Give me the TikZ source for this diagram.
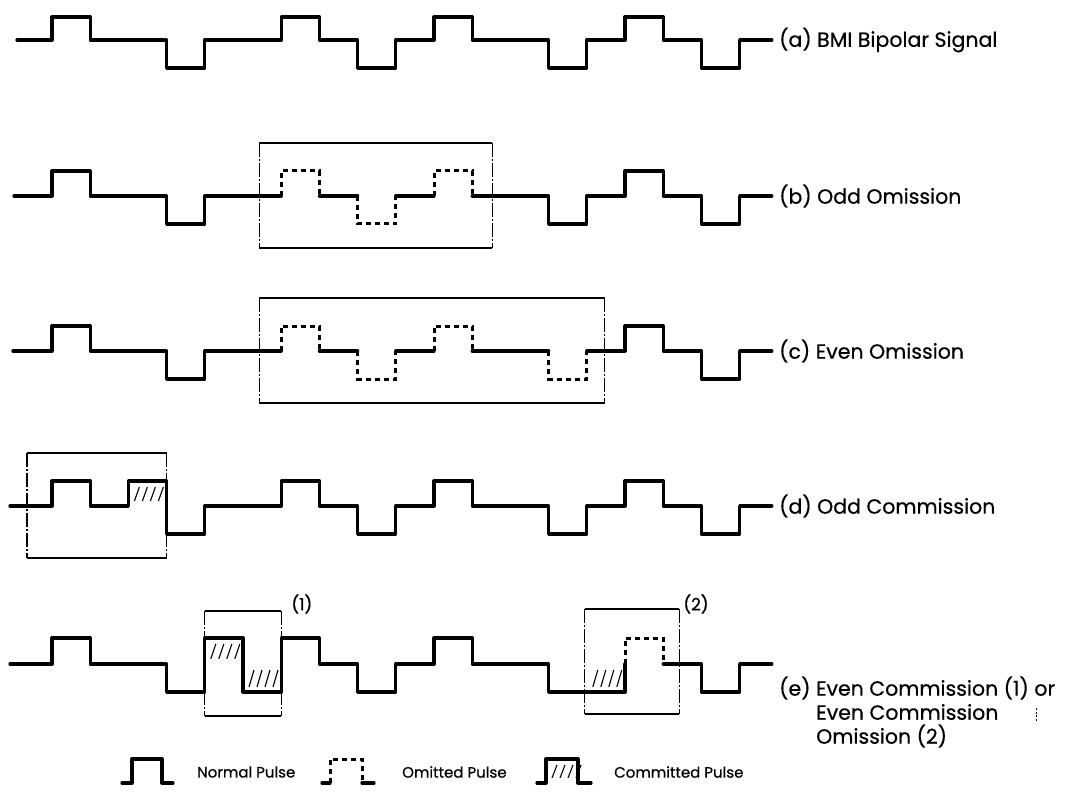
\documentclass[tikz,border=0pt]{standalone}
\usepackage{fontspec}
\setmainfont{Poppins}[FakeBold=0.5]
\pgfmathdeclarefunction{sx}{1}{\pgfmathparse{52+38.2*#1}}
\tikzset{
  sig/.style={line width=3.3pt, line join=round, line cap=round},
  om/.style={line width=3pt, dash pattern=on 5pt off 4pt, line cap=butt},
  frameh/.style={line width=1.3pt},
  framev/.style={line width=1.1pt, dash pattern=on 14pt off 2pt on 2pt off 2pt},
  hatchl/.style={line width=1.1pt},
  lbl/.style={anchor=west, font=\fontsize{20.5}{24}\selectfont, inner sep=0pt},
  leg/.style={anchor=west, font=\fontsize{15}{18}\selectfont, inner sep=0pt},
}
\newcommand\pup[1]{-- ({sx(#1)},\yb) -- ({sx(#1)},\yh) -- ({sx(#1+1)},\yh) -- ({sx(#1+1)},\yb)}
\newcommand\pdn[1]{-- ({sx(#1)},\yb) -- ({sx(#1)},\yl) -- ({sx(#1+1)},\yl) -- ({sx(#1+1)},\yb)}
\newcommand\errbox[4]{%
  \draw[frameh] ({#1},{#2}) -- ({#3},{#2});
  \draw[frameh] ({#1},{#4}) -- ({#3},{#4});
  \draw[framev] ({#1},{#2}) -- ({#1},{#4});
  \draw[framev] ({#3},{#2}) -- ({#3},{#4});}
\newcommand\hatch[4]{%
  \pgfmathsetmacro\hxa{#1}\pgfmathsetmacro\hya{#2}\pgfmathsetmacro\hyb{#4}%
  \foreach \i in {0,1,2,3}{\draw[hatchl] ({\hxa+6+\i*8},{\hyb-5}) -- ++(5,{-(\hyb-\hya)+11});}}
\begin{document}
\begin{tikzpicture}[x=1pt,y=-1pt]
\useasboundingbox (0,0) rectangle (1084,794);
\fill[white] (0,0) rectangle (1084,794);

% (a)
\def\yb{40}\def\yh{17}\def\yl{68}
\draw[sig] (17,\yb) \pup{0}\pdn{3}\pup{6}\pdn{8}\pup{10}\pdn{13}\pup{15}\pdn{17} -- ({sx(19)-6},\yb);
\node[lbl] (la) at (779,\yb) {(a) BMI Bipolar Signal};

% (b)
\def\yb{196}\def\yh{171}\def\yl{224}
\draw[sig] (14,\yb) \pup{0}\pdn{3} -- ({sx(6)},\yb);
\draw[om] ({sx(6)},\yb) -- ({sx(6)},\yh) -- ({sx(7)},\yh) -- ({sx(7)},\yb);
\draw[sig] ({sx(7)},\yb) -- ({sx(8)},\yb);
\draw[om] ({sx(8)},\yb) -- ({sx(8)},\yl) -- ({sx(9)},\yl) -- ({sx(9)},\yb);
\draw[sig] ({sx(9)},\yb) -- ({sx(10)},\yb);
\draw[om] ({sx(10)},\yb) -- ({sx(10)},\yh) -- ({sx(11)},\yh) -- ({sx(11)},\yb);
\draw[sig] ({sx(11)},\yb) \pdn{13}\pup{15}\pdn{17} -- ({sx(19)-6},\yb);
\errbox{sx(6)-22}{143}{sx(11)+20}{248}
\node[lbl] (lb) at (779,\yb) {(b) Odd Omission};

% (c)
\def\yb{351}\def\yh{326}\def\yl{379}
\draw[sig] (13,\yb) \pup{0}\pdn{3} -- ({sx(6)},\yb);
\draw[om] ({sx(6)},\yb) -- ({sx(6)},\yh) -- ({sx(7)},\yh) -- ({sx(7)},\yb);
\draw[sig] ({sx(7)},\yb) -- ({sx(8)},\yb);
\draw[om] ({sx(8)},\yb) -- ({sx(8)},\yl) -- ({sx(9)},\yl) -- ({sx(9)},\yb);
\draw[sig] ({sx(9)},\yb) -- ({sx(10)},\yb);
\draw[om] ({sx(10)},\yb) -- ({sx(10)},\yh) -- ({sx(11)},\yh) -- ({sx(11)},\yb);
\draw[sig] ({sx(11)},\yb) -- ({sx(13)},\yb);
\draw[om] ({sx(13)},\yb) -- ({sx(13)},\yl) -- ({sx(14)},\yl) -- ({sx(14)},\yb);
\draw[sig] ({sx(14)},\yb) \pup{15}\pdn{17} -- ({sx(19)-6},\yb);
\errbox{sx(6)-22}{298}{sx(14)+18}{403}
\node[lbl] (lc) at (779,\yb) {(c) Even Omission};

% (d)
\def\yb{506}\def\yh{481}\def\yl{534}
\draw[sig] (10,\yb) \pup{0} -- ({sx(2)},\yb) -- ({sx(2)},\yh) -- ({sx(3)},\yh) -- ({sx(3)},\yl) -- ({sx(4)},\yl) -- ({sx(4)},\yb) \pup{6}\pdn{8}\pup{10}\pdn{13}\pup{15}\pdn{17} -- ({sx(19)-6},\yb);
\hatch{sx(2)}{\yh}{sx(3)}{\yb}
\errbox{27}{453}{sx(3)}{558}
\node[lbl] (ld) at (779,\yb) {(d) Odd Commission};

% (e)
\def\yb{664}\def\yh{638}\def\yl{692}
\draw[sig] (10,\yb) \pup{0} -- ({sx(3)},\yb) -- ({sx(3)},\yl) -- ({sx(4)},\yl) -- ({sx(4)},\yh) -- ({sx(5)},\yh) -- ({sx(5)},\yl) -- ({sx(6)},\yl) -- ({sx(6)},\yh) -- ({sx(7)},\yh) -- ({sx(7)},\yb) \pdn{8}\pup{10} -- ({sx(13)},\yb) -- ({sx(13)},\yl) -- ({sx(15)},\yl) -- ({sx(15)},\yb);
\draw[om] ({sx(15)},\yb) -- ({sx(15)},\yh) -- ({sx(16)},\yh) -- ({sx(16)},\yb);
\draw[sig] ({sx(16)},\yb) \pdn{17} -- ({sx(19)-6},\yb);
\hatch{sx(4)}{\yh}{sx(5)}{\yb}
\hatch{sx(5)}{\yb}{sx(6)}{\yl}
\hatch{sx(14)}{\yb}{sx(15)}{\yl}
\errbox{sx(4)}{611}{sx(6)}{716}
\errbox{sx(14)-2}{609}{sx(16)+16}{714}
\node[anchor=west, font=\fontsize{17}{18}\selectfont, inner sep=0pt] (e1) at ({sx(6)+10},604) {(1)};
\node[anchor=west, font=\fontsize{17}{18}\selectfont, inner sep=0pt] (e2) at ({sx(16)+20},604) {(2)};
\node[lbl] (le1) at (779,688) {(e) Even Commission (1) or};
\node[lbl] (le2) at (816,712) {Even Commission};
\node[lbl] (le3) at (816,736) {Omission (2)};
\draw[line width=0.7pt, dash pattern=on 2pt off 1.5pt] (1036,708) -- (1036,722);

% legend
\draw[sig] (122,783) -- (132,783) -- (132,759) -- (162,759) -- (162,783) -- (173,783);
\node[leg] (ln) at (197,772) {Normal Pulse};
\draw[sig] (322,783) -- (330,783);
\draw[om] (330,783) -- (330,759) -- (362,759) -- (362,783);
\draw[sig] (362,783) -- (374,783);
\node[leg] (lo) at (402,772) {Omitted Pulse};
\draw[sig] (537,783) -- (546,783) -- (546,759) -- (578,759) -- (578,783) -- (591,783);
\hatch{546}{759}{578}{783}
\node[leg] (lcp) at (614,772) {Committed Pulse};
\end{tikzpicture}
\end{document}
